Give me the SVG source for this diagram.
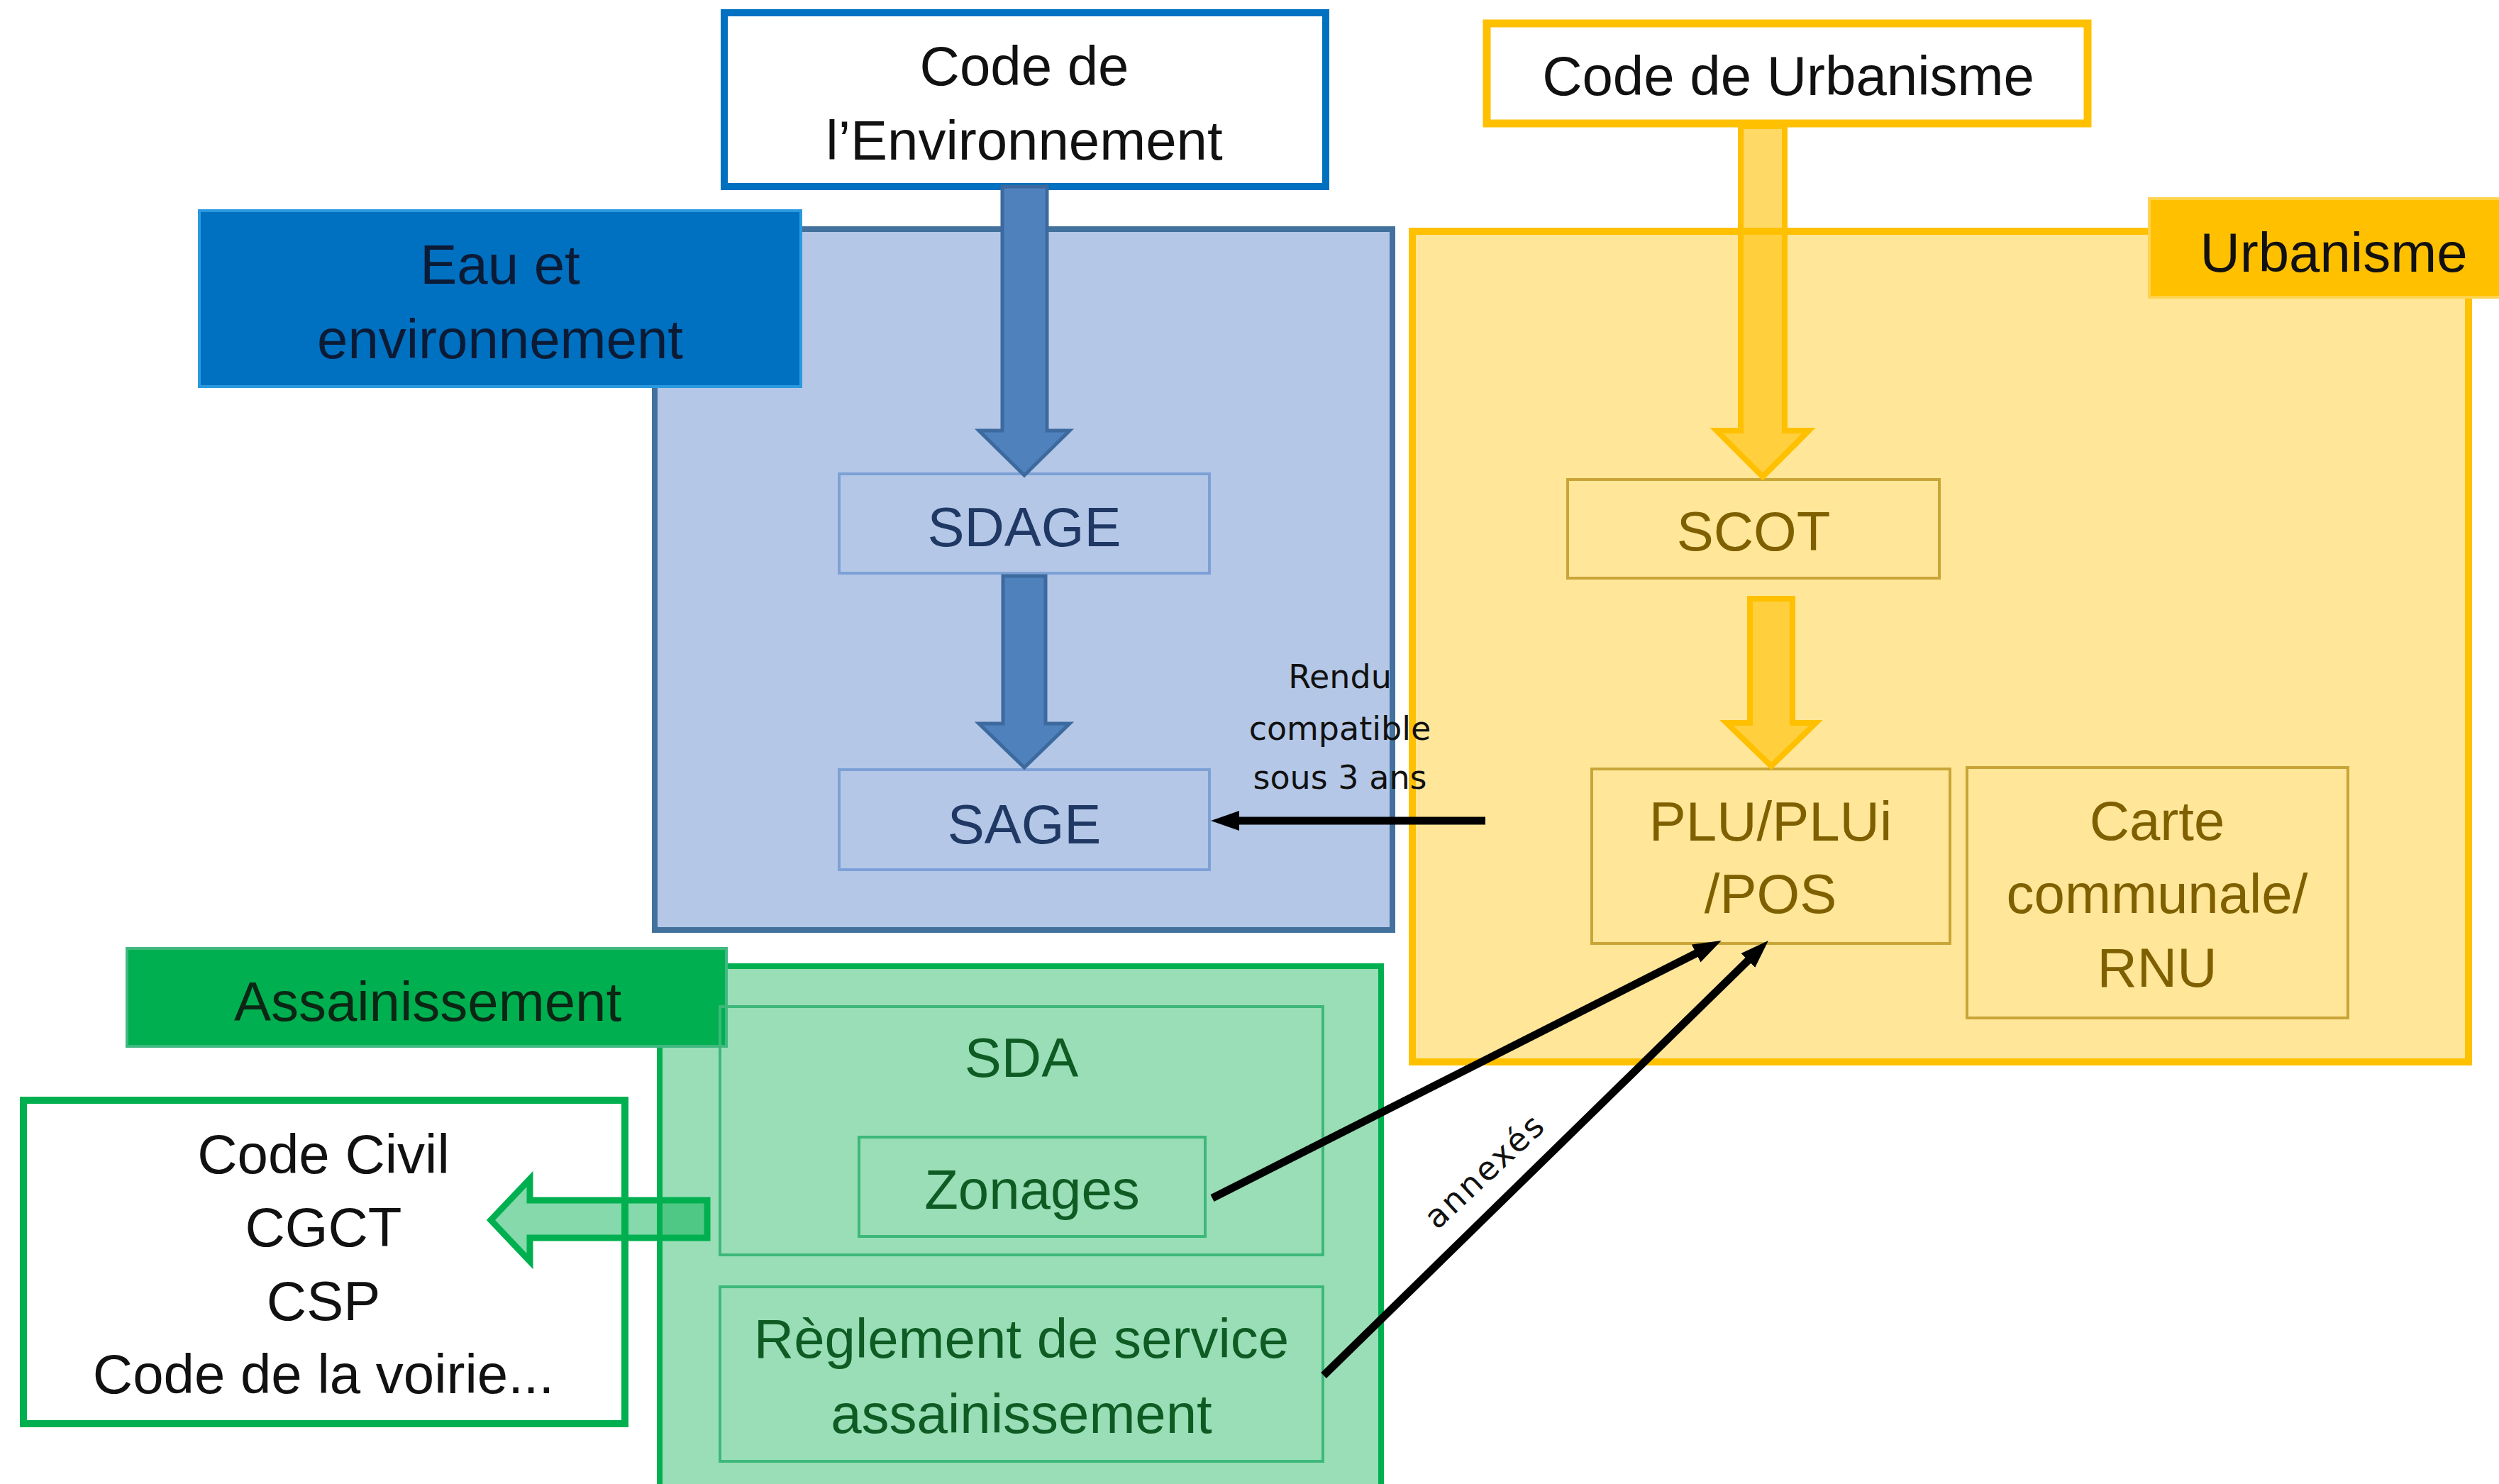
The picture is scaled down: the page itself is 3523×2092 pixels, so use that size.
<svg xmlns="http://www.w3.org/2000/svg" width="3523" height="2092" viewBox="0 0 3523 2092">
<style>
.t{font-family:"Liberation Sans",Arial,sans-serif;font-size:78px;text-anchor:middle}
.s{font-family:"DejaVu Sans",sans-serif;font-size:46px;text-anchor:middle;fill:#111}
.k{fill:#111}
.bt{fill:#1F3864}
.yt{fill:#7F6000}
.gt{fill:#0E5C23}
.bb{fill:none;stroke:#7DA1D6;stroke-width:4}
.yb{fill:none;stroke:#C9A537;stroke-width:4}
.gb{fill:none;stroke:#3DB87A;stroke-width:4}
.barrow{fill:#4F81BD;stroke:#3C6A9E;stroke-width:5}
.yarrow{fill:#FFC000;fill-opacity:0.6;stroke:#FFC000;stroke-width:8}
.conn{fill:none;stroke:#000;stroke-width:11}
</style>
<defs>
<marker id="ah" markerUnits="userSpaceOnUse" markerWidth="42" markerHeight="30" refX="10" refY="14" orient="auto">
<path d="M0,0 L40,14 L0,28 z" fill="#000"/>
</marker>
</defs>
<rect width="3523" height="2092" fill="#fff"/>

<g id="eau-container">
<rect x="923" y="323" width="1040" height="988" fill="#B4C7E7" stroke="#41719C" stroke-width="8"/>
</g>
<g id="urbanisme-container">
<rect x="1991" y="326" width="1489" height="1171" fill="#FFE699" stroke="#FFC000" stroke-width="10"/>
</g>
<g id="assainissement-container">
<rect x="930" y="1362" width="1017" height="800" fill="#99DEB7" stroke="#00B050" stroke-width="8"/>
</g>

<g id="eau-label">
<rect x="281" y="297" width="848" height="248" fill="#0070C0" stroke="#2A9AE0" stroke-width="4"/>
<text class="t" x="705" y="400" fill="#0B1B36">Eau et</text>
<text class="t" x="705" y="505" fill="#0B1B36">environnement</text>
</g>
<g id="urbanisme-label">
<rect x="3030" y="280" width="500" height="139" fill="#FFC000" stroke="#FFD34D" stroke-width="4"/>
<text class="t k" x="3290" y="383">Urbanisme</text>
</g>
<g id="assainissement-label">
<rect x="179" y="1337" width="845" height="138" fill="#00B050" stroke="#40B880" stroke-width="4"/>
<text class="t" x="603" y="1439" fill="#0B2614">Assainissement</text>
</g>

<g id="code-environnement">
<rect x="1021" y="18" width="848" height="245" fill="#fff" stroke="#0070C0" stroke-width="10"/>
<text class="t k" x="1444" y="120">Code de</text>
<text class="t k" x="1444" y="225">l’Environnement</text>
</g>
<g id="code-urbanisme">
<rect x="2096" y="33" width="847" height="141" fill="#fff" stroke="#FFC000" stroke-width="11"/>
<text class="t k" x="2521" y="134">Code de Urbanisme</text>
</g>
<g id="code-civil">
<rect x="33" y="1551" width="848" height="456" fill="#fff" stroke="#00B050" stroke-width="10"/>
<text class="t k" x="456" y="1654">Code Civil</text>
<text class="t k" x="456" y="1757">CGCT</text>
<text class="t k" x="456" y="1861">CSP</text>
<text class="t k" x="456" y="1964">Code de la voirie...</text>
</g>

<g id="sdage">
<rect class="bb" x="1183" y="668" width="522" height="140"/>
<text class="t bt" x="1444" y="770">SDAGE</text>
</g>
<g id="sage">
<rect class="bb" x="1183" y="1085" width="522" height="141"/>
<text class="t bt" x="1444" y="1189">SAGE</text>
</g>
<g id="scot">
<rect class="yb" x="2210" y="676" width="524" height="139"/>
<text class="t yt" x="2472" y="776">SCOT</text>
</g>
<g id="plu">
<rect class="yb" x="2244" y="1084" width="505" height="246"/>
<text class="t yt" x="2496" y="1185">PLU/PLUi</text>
<text class="t yt" x="2496" y="1287">/POS</text>
</g>
<g id="carte">
<rect class="yb" x="2773" y="1082" width="537" height="353"/>
<text class="t yt" x="3041" y="1184">Carte</text>
<text class="t yt" x="3041" y="1287">communale/</text>
<text class="t yt" x="3041" y="1391">RNU</text>
</g>
<g id="sda">
<rect class="gb" x="1015" y="1419" width="850" height="350"/>
<text class="t gt" x="1440" y="1518">SDA</text>
</g>
<g id="zonages">
<rect class="gb" x="1211" y="1603" width="488" height="140"/>
<text class="t gt" x="1455" y="1704">Zonages</text>
</g>
<g id="reglement">
<rect class="gb" x="1015" y="1814" width="850" height="246"/>
<text class="t gt" x="1440" y="1914">Règlement de service</text>
<text class="t gt" x="1440" y="2020">assainissement</text>
</g>

<g id="connectors">
<polygon class="barrow" points="1413,263 1476,263 1476,607 1508,607 1444,670 1380,607 1413,607"/>
<polygon class="barrow" points="1414,812 1474,812 1474,1020 1508,1020 1444,1082 1380,1020 1414,1020"/>
<polygon class="yarrow" points="2454,178 2516,178 2516,607 2550,607 2485,672 2420,607 2454,607"/>
<polygon class="yarrow" points="2467,844 2527,844 2527,1019 2560,1019 2497,1080 2434,1019 2467,1019"/>
<polygon points="997,1692 997,1745 747,1745 747,1778 692,1720 747,1662 747,1692" fill="#00B050" fill-opacity="0.48" stroke="#00B050" stroke-width="9"/>
<path class="conn" d="M2094,1157 L1737,1157" marker-end="url(#ah)"/>
<path class="conn" d="M1709,1689 L2400,1339.5" marker-end="url(#ah)"/>
<path class="conn" d="M1866,1939 L2471.5,1347" marker-end="url(#ah)"/>
<text class="s" x="1889" y="970">Rendu</text>
<text class="s" x="1889" y="1043">compatible</text>
<text class="s" x="1889" y="1112">sous 3 ans</text>
<text class="s" x="2104" y="1662" font-size="50" letter-spacing="3" transform="rotate(-43 2104 1662)">annexés</text>
</g>
</svg>
